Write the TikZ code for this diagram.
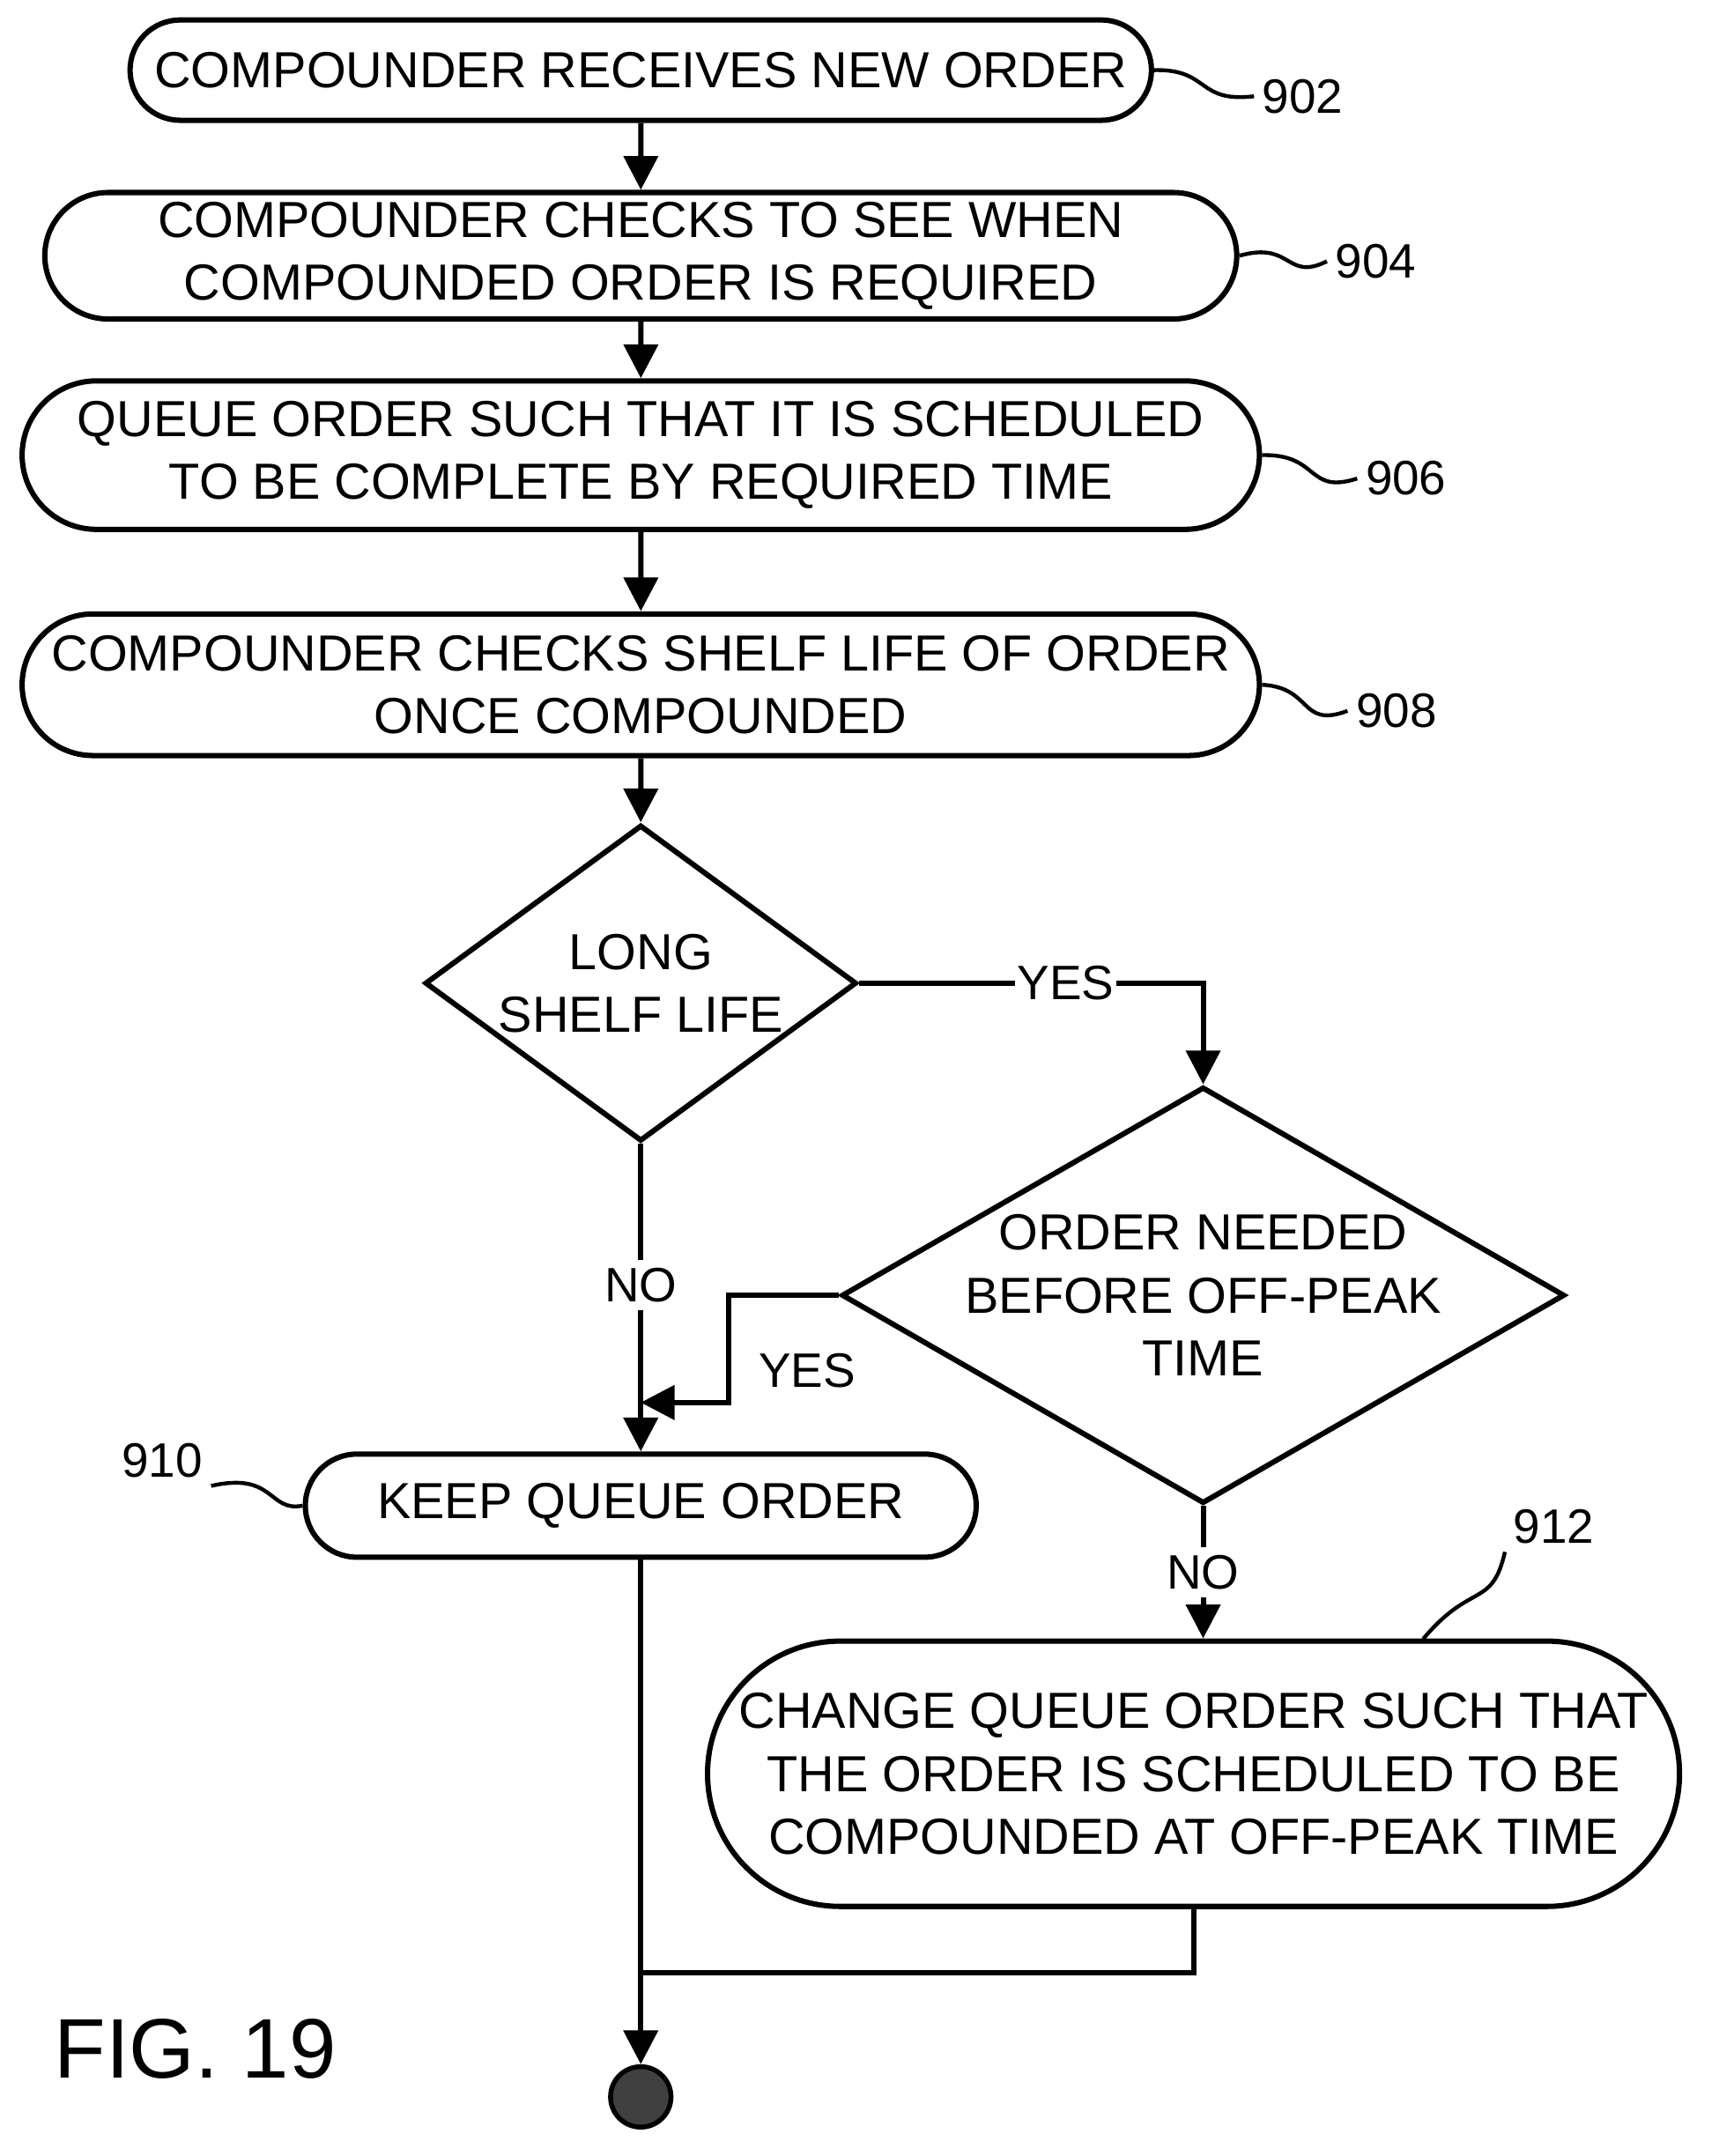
\documentclass[tikz,border=0pt]{standalone}
\usepackage{fontspec}
\setmainfont{Liberation Sans}
\usetikzlibrary{shapes.misc,shapes.geometric,arrows.meta}

\begin{document}
\begin{tikzpicture}[x=0.02cm, y=-0.02cm,
		proc/.style={rounded rectangle, draw=black, line width=2.2pt, fill=white,
			align=center, font=\fontsize{21}{26}\selectfont, inner sep=0pt},
		test/.style={diamond, draw=black, line width=2.2pt, fill=white, inner sep=0pt},
		txt/.style={align=center, font=\fontsize{21}{26}\selectfont},
		line/.style={draw, line width=2.2pt, -{Triangle[length=14pt,width=14pt]}},
		tag/.style={font=\fontsize{20}{22}\selectfont},
		squig/.style={line width=1.6pt}]
	\useasboundingbox (0,0) rectangle (1250,1568);
	
	% Steps
	\node[proc, minimum width=14.86cm, minimum height=1.46cm] (S902) at (466,51) {COMPOUNDER RECEIVES NEW ORDER};
	\node[proc, minimum width=17.34cm, minimum height=1.84cm] (S904) at (466,186) {COMPOUNDER CHECKS TO SEE WHEN\\COMPOUNDED ORDER IS REQUIRED};
	\node[proc, minimum width=18cm, minimum height=2.16cm] (S906) at (466,331) {QUEUE ORDER SUCH THAT IT IS SCHEDULED\\TO BE COMPLETE BY REQUIRED TIME};
	\node[proc, minimum width=18cm, minimum height=2.06cm] (S908) at (466,498) {COMPOUNDER CHECKS SHELF LIFE OF ORDER\\ONCE COMPOUNDED};
	
	% Decisions
	\node[test, minimum width=6.28cm, minimum height=4.6cm] (D1) at (466,715) {};
	\node[txt] (T1) at (D1) {LONG\\SHELF LIFE};
	\node[test, minimum width=10.52cm, minimum height=6.06cm] (D2) at (875,942) {};
	\node[txt] (T2) at (D2) {ORDER NEEDED\\BEFORE OFF-PEAK\\TIME};
	
	\node[proc, minimum width=9.76cm, minimum height=1.5cm] (S910) at (466,1095) {KEEP QUEUE ORDER};
	\node[proc, minimum width=14.14cm, minimum height=3.86cm] (S912) at (868,1290) {CHANGE QUEUE ORDER SUCH THAT\\THE ORDER IS SCHEDULED TO BE\\COMPOUNDED AT OFF-PEAK TIME};
	\node[circle, draw=black, line width=2pt, fill=black!75, minimum size=0.88cm] (End) at (466,1525) {};
	
	% Connectors
	\path[line] (S902) -- (S904);
	\path[line] (S904) -- (S906);
	\path[line] (S906) -- (S908);
	\path[line] (S908) -- (D1);
	\path[line] (D1.east) -| node[pos=0.3, fill=white, tag, inner sep=1pt] {YES} (D2.north);
	\path[line] (D1.south) -- node[pos=0.46, fill=white, tag] {NO} (S910.north);
	\path[line] (D2.west) -- (530,942) -- (530,1020) -- (466,1020);
	\node[tag] (Y2) at (587,997) {YES};
	\path[line] (D2.south) -- node[pos=0.5, fill=white, tag] {NO} (D2.south |- S912.north);
	\path[line] (S910.south) -- (End);
	\draw[line width=2.2pt] (S912.south) -- (868,1435) -- (466,1435);
	
	% Reference numerals
	\node[tag, anchor=west] (L902) at (912,70) {902};
	\node[tag, anchor=west] (L904) at (965,190) {904};
	\node[tag, anchor=west] (L906) at (987,348) {906};
	\node[tag, anchor=west] (L908) at (980,517) {908};
	\node[tag] (L910) at (118,1062) {910};
	\node[tag] (L912) at (1130,1110) {912};
	\draw[squig] (S902.east) .. controls (880,50) and (870,75) .. (L902.west);
	\draw[squig] (S904.east) .. controls (940,175) and (935,205) .. (L904.west);
	\draw[squig] (S906.east) .. controls (960,330) and (950,360) .. (L906.west);
	\draw[squig] (S908.east) .. controls (955,500) and (945,530) .. (L908.west);
	\draw[squig] (L910.south east) .. controls (200,1070) and (195,1100) .. (S910.west);
	\draw[squig] (1035,1192) .. controls (1070,1150) and (1085,1170) .. (L912.south west);
	
	\node[font=\fontsize{35}{40}\selectfont] (Fig) at (142,1490) {FIG. 19};
\end{tikzpicture}
\end{document}
